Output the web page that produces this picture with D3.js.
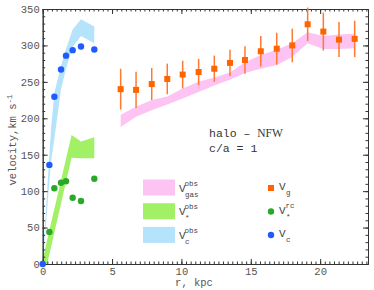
<!DOCTYPE html>
<html lang="en">
<head>
<meta charset="UTF-8">
<title>halo - NFW rotation curve</title>
<script src="https://d3js.org/d3.v7.min.js"></script>
<style>
  body { margin: 0; background: #fff; }
  text { font-family: "Liberation Mono", "DejaVu Sans Mono", monospace; }
</style>
</head>
<body>
<svg id="chart" width="374" height="290"></svg>
<script>
// gas rotation, V_g with error bars
var gasR = [5.62, 6.73, 7.86, 8.98, 10.09, 11.24, 12.37, 13.5, 14.58, 15.72, 16.87, 17.99, 19.1, 20.23, 21.36, 22.49];
var gasV = [240, 239, 247, 254, 260, 263.5, 268, 276, 280, 292, 295.5, 300, 329, 319, 308, 309];
var gasErr = [28, 25, 22, 21, 19, 18, 18, 18, 19, 21, 22, 23, 23, 26, 24, 25];

// stellar (V*^rc) and total (V_c) points
var innerR = [0.48, 0.84, 1.32, 1.68, 2.16, 2.76, 3.72];
var starV = [44, 104, 111.5, 113.5, 91, 86.5, 117];
var circR = [0, 0.48, 0.84, 1.32, 1.68, 2.16, 2.76, 3.72];
var circV = [0, 136, 229.5, 267, 286, 293.5, 298.5, 294.5];

// model bands
var gasBandR = [5.62, 6.73, 7.86, 8.98, 10.09, 11.24, 12.37, 13.5, 14.58, 15.72, 16.87, 17.99, 19.1, 20.23, 21.36, 22.49];
var gasBandLo = [188, 202, 211, 219, 227, 236, 245, 253, 262, 268, 273, 284, 303, 295, 295, 296];
var gasBandHi = [205, 216, 225, 230, 241, 250, 256, 263, 277, 287, 294, 303, 318, 313, 315, 316];

var starBandR = [0, 0.32, 2.08, 2.76, 3.72];
var starBandLo = [0, 0, 146, 145, 145];
var starBandHi = [6, 33, 177, 168, 174];

var circBandR = [0, 0.3, 0.6, 0.84, 1.32, 1.68, 2.16, 2.76, 3.72];
var circBandLo = [0, 70, 140, 172, 240, 268, 298, 313, 303];
var circBandHi = [0, 95, 185, 235, 272, 295, 322, 336, 326];

var pink = "#fdc3f3", lgreen = "#a2f066", lblue = "#b5e3fb";
var orange = "#ff6400", green = "#2aa82a", blue = "#1f5bff";

var svg = d3.select("#chart");
var mLeft = 42.7, mRight = 368, mTop = 9, mBottom = 264;

var x = d3.scaleLinear().domain([0, 23.45]).range([mLeft, mRight]);
var y = d3.scaleLinear().domain([0, 350]).range([mBottom, mTop]);

// bands
function band(rs, lo, hi, color) {
  var pts = rs.map(function (r, i) { return { r: r, lo: lo[i], hi: hi[i] }; });
  svg.append("path")
    .datum(pts)
    .attr("fill", color)
    .attr("d", d3.area()
      .x(function (d) { return x(d.r); })
      .y0(function (d) { return y(d.lo); })
      .y1(function (d) { return y(d.hi); }));
}
band(gasBandR, gasBandLo, gasBandHi, pink);
band(circBandR, circBandLo, circBandHi, lblue);
band(starBandR, starBandLo, starBandHi, lgreen);

// axes: ticks inward on all four sides
var xMinor = d3.range(0, 23.45, 1 / 3);
var yMinor = d3.range(0, 351, 10);
var xMajor = [0, 5, 10, 15, 20];
var yMajor = [0, 50, 100, 150, 200, 250, 300, 350];

function axisG(axis, tx, ty) {
  var g = svg.append("g").attr("transform", "translate(" + tx + "," + ty + ")").call(axis);
  g.selectAll("path, line").attr("stroke", "#333");
  g.selectAll("text").attr("fill", "#555").style("font-size", "10.5px")
    .style("font-family", "'Liberation Mono', monospace");
  return g;
}
axisG(d3.axisBottom(x).tickValues(xMinor).tickFormat("").tickSize(-2.5).tickSizeOuter(0), 0, mBottom);
axisG(d3.axisBottom(x).tickValues(xMajor).tickFormat(d3.format("d")).tickSize(-5).tickSizeOuter(0).tickPadding(4), 0, mBottom);
axisG(d3.axisTop(x).tickValues(xMinor).tickFormat("").tickSize(-2.5).tickSizeOuter(0), 0, mTop);
axisG(d3.axisTop(x).tickValues(xMajor).tickFormat("").tickSize(-5).tickSizeOuter(0), 0, mTop);
axisG(d3.axisLeft(y).tickValues(yMinor).tickFormat("").tickSize(-2.5).tickSizeOuter(0), mLeft, 0);
axisG(d3.axisLeft(y).tickValues(yMajor).tickFormat(d3.format("d")).tickSize(-5).tickSizeOuter(0).tickPadding(3), mLeft, 0);
axisG(d3.axisRight(y).tickValues(yMinor).tickFormat("").tickSize(-2.5).tickSizeOuter(0), mRight, 0);
axisG(d3.axisRight(y).tickValues(yMajor).tickFormat("").tickSize(-5).tickSizeOuter(0), mRight, 0);

// axis titles
svg.append("text").attr("x", 194).attr("y", 286).attr("text-anchor", "middle")
  .attr("fill", "#555").style("font-size", "10.5px").text("r, kpc");
var yl = svg.append("text").attr("transform", "translate(16,140) rotate(-90)")
  .attr("text-anchor", "middle").attr("fill", "#555").style("font-size", "10.5px");
yl.append("tspan").text("velocity,km s");
yl.append("tspan").attr("dy", -4).style("font-size", "7.5px").text("-1");

// gas points with error bars
var gas = gasR.map(function (r, i) { return { r: r, v: gasV[i], e: gasErr[i] }; });
svg.append("g").selectAll("line").data(gas).enter().append("line")
  .attr("x1", function (d) { return x(d.r); })
  .attr("x2", function (d) { return x(d.r); })
  .attr("y1", function (d) { return y(d.v - d.e); })
  .attr("y2", function (d) { return y(d.v + d.e); })
  .attr("stroke", "#ff7a30").attr("stroke-width", 1.5);
svg.append("g").selectAll("rect").data(gas).enter().append("rect")
  .attr("x", function (d) { return x(d.r) - 3; })
  .attr("y", function (d) { return y(d.v) - 3; })
  .attr("width", 6).attr("height", 6)
  .attr("fill", orange);

// star and circular velocity points
svg.append("g").selectAll("circle").data(innerR).enter().append("circle")
  .attr("cx", function (d) { return x(d); })
  .attr("cy", function (d, i) { return y(starV[i]); })
  .attr("r", 3.2).attr("fill", green);
svg.append("g").selectAll("circle").data(circR).enter().append("circle")
  .attr("cx", function (d) { return x(d); })
  .attr("cy", function (d, i) { return y(circV[i]); })
  .attr("r", 3.2).attr("fill", blue);

// annotation
var ann = svg.append("g").attr("fill", "#333").style("font-size", "11.5px");
var t1 = ann.append("text").attr("x", 209).attr("y", 137);
t1.append("tspan").text("halo \u2013 ");
t1.append("tspan").style("font-family", "'Liberation Serif', serif").text("NFW");
ann.append("text").attr("x", 209).attr("y", 152).text("c/a = 1");

// legend: bands
var bandLegend = [
  { c: pink, sub: "gas" },
  { c: lgreen, sub: "*" },
  { c: lblue, sub: "c" }
];
var bl = svg.append("g").selectAll("g").data(bandLegend).enter().append("g")
  .attr("transform", function (d, i) { return "translate(143," + (179.5 + i * 23.7) + ")"; });
bl.append("rect").attr("width", 32).attr("height", 16).attr("fill", function (d) { return d.c; });
var blt = bl.append("text").attr("x", 36).attr("y", 12).attr("fill", "#444").style("font-size", "11px");
blt.append("tspan").text("V");
blt.append("tspan").attr("dy", -6).attr("dx", -1).style("font-size", "7.5px").text("obs");
blt.append("tspan").attr("x", 42).attr("dy", 11).style("font-size", "7.5px").text(function (d) { return d.sub; });

// legend: points
var ptLegend = [
  { kind: "sq", c: orange, sup: "", sub: "g" },
  { kind: "ci", c: green, sup: "rc", sub: "*" },
  { kind: "ci", c: blue, sup: "", sub: "c" }
];
var pl = svg.append("g").selectAll("g").data(ptLegend).enter().append("g")
  .attr("transform", function (d, i) { return "translate(271," + (188 + i * 23.5) + ")"; });
pl.filter(function (d) { return d.kind == "sq"; }).append("rect")
  .attr("x", -3).attr("y", -3).attr("width", 6).attr("height", 6).attr("fill", function (d) { return d.c; });
pl.filter(function (d) { return d.kind == "ci"; }).append("circle")
  .attr("r", 3.2).attr("fill", function (d) { return d.c; });
var plt = pl.append("text").attr("x", 8).attr("y", 2).attr("fill", "#444").style("font-size", "11px");
plt.append("tspan").text("V");
plt.append("tspan").attr("dy", -6).style("font-size", "7.5px").text(function (d) { return d.sup; });
plt.append("tspan").attr("x", 15).attr("dy", function (d) { return d.sup ? 11 : 5; })
  .style("font-size", "7.5px").text(function (d) { return d.sub; });
</script>
</body>
</html>
